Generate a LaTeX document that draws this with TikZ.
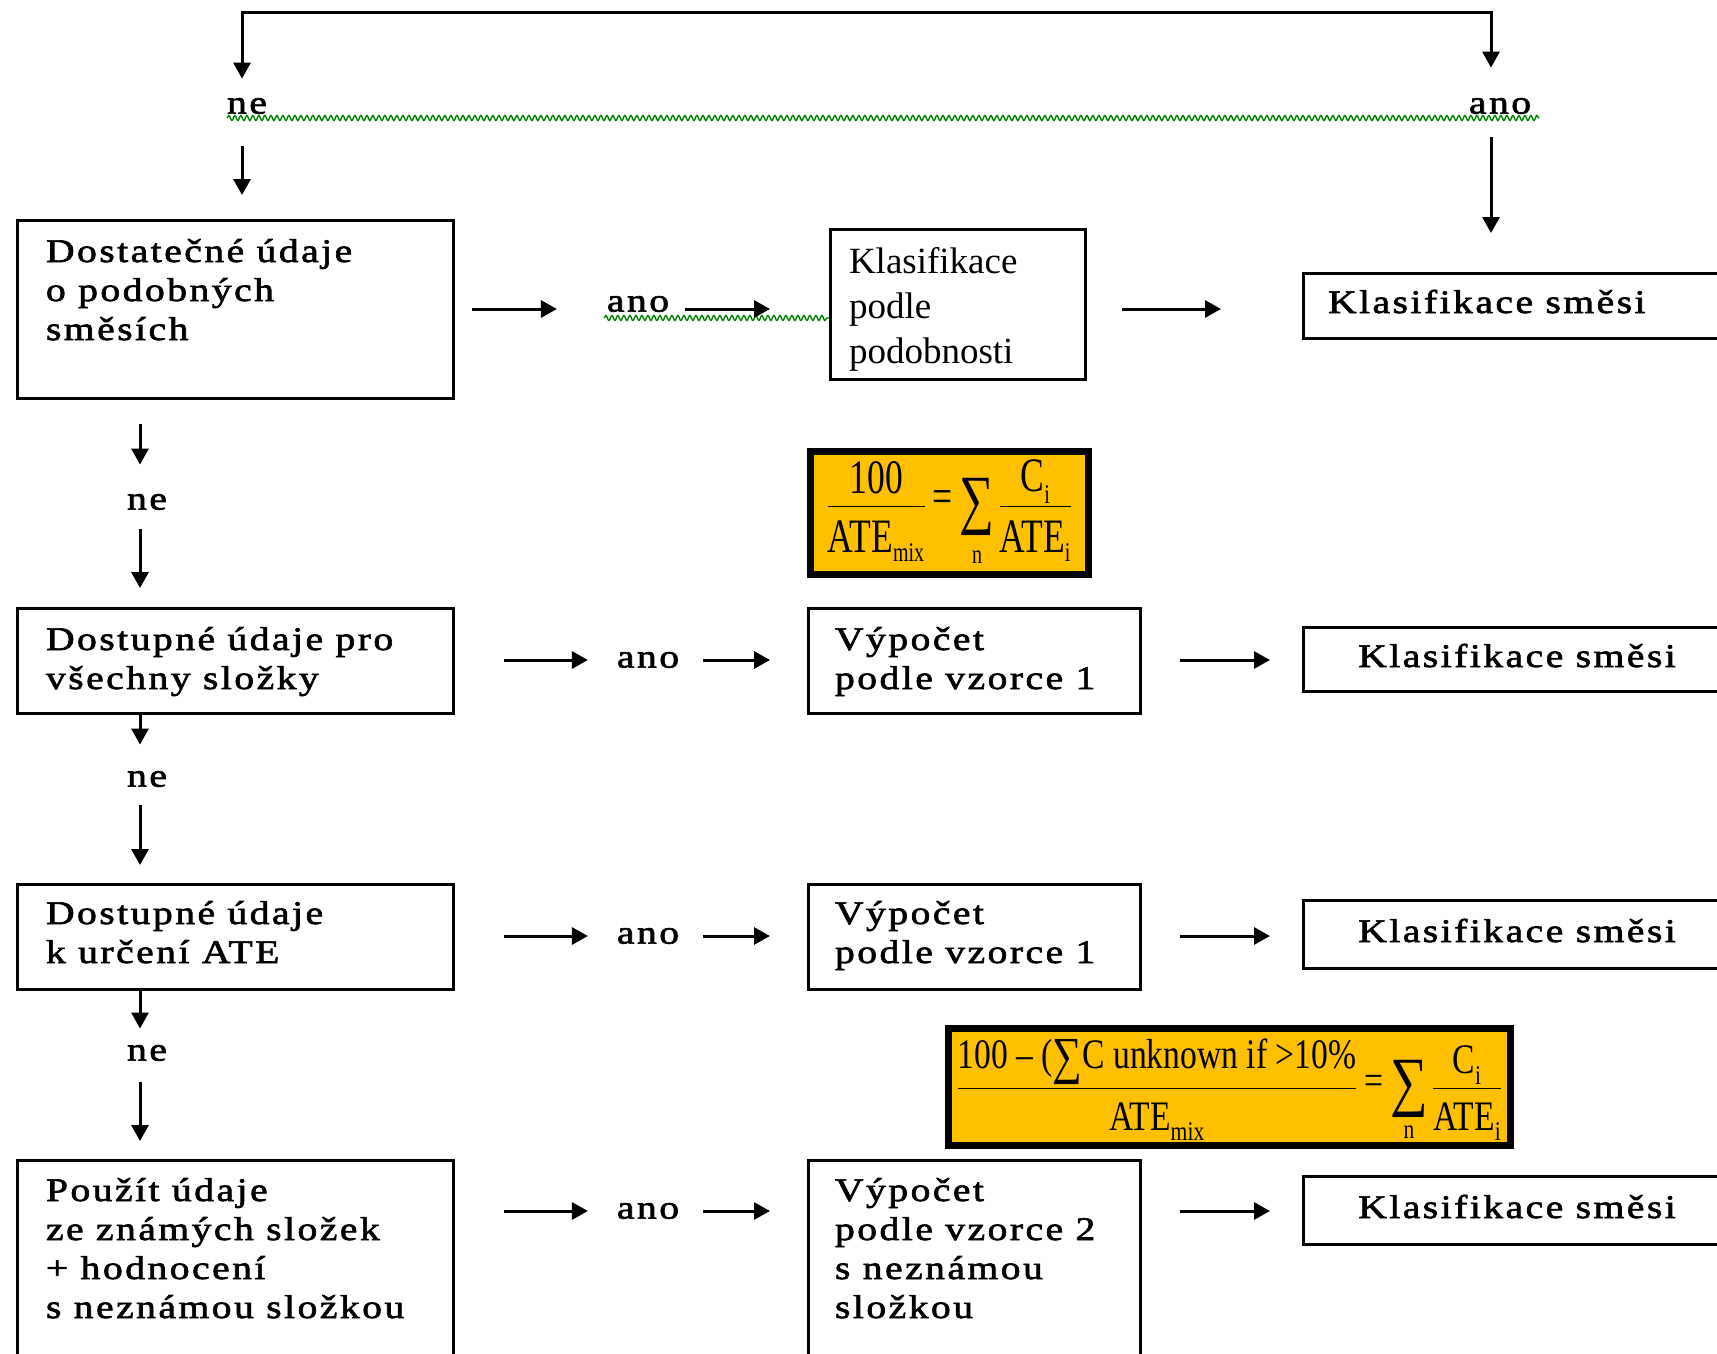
\documentclass[tikz,border=0pt]{standalone}
\usepackage{amsmath}
\usepackage{fontspec}
\setmainfont{Liberation Serif}
\newfontfamily\wf{Liberation Serif}[FakeStretch=1.2,LetterSpace=7.5,FakeBold=2]
\newfontfamily\ff{Liberation Serif}[FakeStretch=0.74]
\newfontfamily\fg{Liberation Serif}[FakeStretch=0.8]
\usetikzlibrary{arrows.meta,calc,decorations.pathmorphing}
\definecolor{gold}{RGB}{255,192,0}
\definecolor{wavy}{RGB}{0,128,0}
\newcommand\bigsum{\mathop{\vcenter{\hbox{\fontsize{66}{66}\selectfont ∑}}}\limits}
\newcommand\eqs{\mathrel{\text{=}}}
\newcommand\sz{\fontsize{27}{27}\selectfont}
\newcommand\nst{\rule[-10pt]{0pt}{10pt}}
\newcommand\dst{\rule{0pt}{42pt}}
\newcommand\dstb{\rule{0pt}{39pt}}
\newcommand\lowsub{\rule{0pt}{24pt}}
\newcommand\lowsubb{\rule{0pt}{17pt}}
\begin{document}
\begin{tikzpicture}[x=1pt,y=-1pt,
  every node/.style={outer sep=0pt},
  boxframe/.style={draw, line width=3pt, inner sep=0pt, anchor=north west},
  wt/.style={font=\wf\fontsize{33}{39}\selectfont, inner sep=0pt, anchor=north west, align=left},
  pt/.style={font=\fontsize{37}{45}\selectfont, inner sep=0pt, anchor=north west, align=left},
  lbl/.style={font=\wf\fontsize{33}{39}\selectfont, inner sep=0pt},
  arr/.style={line width=3pt, -{Triangle[length=16pt,width=17pt]}},
  squig/.style={wavy, line width=1.4pt, decorate, decoration={snake, amplitude=2.5pt, segment length=6pt}},
  formbox/.style={draw, line width=7pt, fill=gold, inner sep=0pt, anchor=north west}]

\useasboundingbox (0,0) rectangle (1717,1354);
\clip (0,0) rectangle (1717,1354);

% frames
\node[boxframe, minimum width=436pt, minimum height=178pt] (b1) at (17,220) {};
\node[boxframe, minimum width=436pt, minimum height=105pt] (b2) at (17,608) {};
\node[boxframe, minimum width=436pt, minimum height=105pt] (b3) at (17,884) {};
\node[boxframe, minimum width=436pt, minimum height=300pt] (b4) at (17,1160) {};
\node[boxframe, minimum width=255pt, minimum height=150pt] (k) at (830,229) {};
\node[boxframe, minimum width=332pt, minimum height=105pt] (v1) at (808,608) {};
\node[boxframe, minimum width=332pt, minimum height=105pt] (v2) at (808,884) {};
\node[boxframe, minimum width=332pt, minimum height=300pt] (v3) at (808,1160) {};
\node[boxframe, minimum width=440pt, minimum height=65pt] (ks0) at (1303,273) {};
\node[boxframe, minimum width=440pt, minimum height=64pt] (ks1) at (1303,627) {};
\node[boxframe, minimum width=440pt, minimum height=68pt] (ks2) at (1303,900) {};
\node[boxframe, minimum width=440pt, minimum height=68pt] (ks3) at (1303,1176) {};

% texts
\node[wt] (b1t) at (46,234.7) {\strut Dostatečné údaje\\o podobných\\směsích};
\node[wt] (b2t) at (46,622.7) {\strut Dostupné údaje pro\\všechny složky};
\node[wt] (b3t) at (46,896.7) {\strut Dostupné údaje\\k určení ATE};
\node[wt] (b4t) at (46,1173.7) {\strut Použít údaje\\ze známých složek\\+ hodnocení\\s neznámou složkou};
\node[pt] (kt) at (849,241.5) {\strut Klasifikace\\podle\\podobnosti};
\node[wt] (v1t) at (835,622.7) {\strut Výpočet\\podle vzorce 1};
\node[wt] (v2t) at (835,896.7) {\strut Výpočet\\podle vzorce 1};
\node[wt] (v3t) at (835,1173.7) {\strut Výpočet\\podle vzorce 2\\s neznámou\\složkou};
\node[lbl, anchor=base west] (ks0t) at (1328,313) {Klasifikace směsi};
\node[lbl, anchor=base] (ks1t) at (1517,667) {Klasifikace směsi};
\node[lbl, anchor=base] (ks2t) at (1517,942) {Klasifikace směsi};
\node[lbl, anchor=base] (ks3t) at (1517,1218) {Klasifikace směsi};

% formulas
\node[formbox, minimum width=278pt, minimum height=123pt, font=\ff\fontsize{48}{52}\selectfont] (f1) at (810.5,451.5)
  {$\displaystyle\frac{\text{100\nst}}{\text{\dst ATE}_{\text{\sz mix}}}\eqs\bigsum_{\text{\sz\lowsub n}}\frac{\text{C\nst}_{\text{\sz i}}}{\text{\dst ATE}_{\text{\sz i}}}$};
\node[formbox, minimum width=562pt, minimum height=117pt, font=\fg\fontsize{42}{46}\selectfont] (f2) at (948.5,1028.5)
  {\raisebox{-3pt}[\height][\depth]{$\displaystyle\frac{\text{100 – (\raisebox{-0.12em}{\fontsize{52}{52}\selectfont ∑}C unknown if >10\%\nst}}{\text{\dstb ATE}_{\text{\sz mix}}}\eqs\bigsum_{\text{\sz\lowsubb n}}\frac{\text{C\nst}_{\text{\sz i}}}{\text{\dstb ATE}_{\text{\sz i}}}$}};

% labels
\node[lbl] (tne) at (247,106) {ne};
\node[lbl] (tano) at (1500,106) {ano};
\node[lbl] (ano1) at (638,304) {ano};
\node[lbl] (ano2) at (648,660) {ano};
\node[lbl] (ano3) at (648,936) {ano};
\node[lbl] (ano4) at (648,1211) {ano};
\node[lbl] (ne1) at (147,502) {ne};
\node[lbl] (ne2) at (147,779) {ne};
\node[lbl] (ne3) at (147,1053) {ne};

% spelling squiggles
\draw[squig] (227,118) -- (1539,118);
\draw[squig] (604,318) -- (829,318);

% top connector
\coordinate (cl) at (242,13);
\coordinate (cr) at (1491,13);
\coordinate (cx) at (140,0);
\draw[line width=3pt, {Triangle[length=16pt,width=17pt]}-{Triangle[length=16pt,width=17pt]}, shorten <=30.5pt, shorten >=19.5pt]
  (cr |- tano.north) -- (cr) -- (cl) -- (cl |- tne.north);
\draw[arr, shorten <=32.5pt, shorten >=25pt] (cl |- tne.south) -- (cl |- b1.north);
\draw[arr, shorten <=23.5pt, shorten >=40pt] (cr |- tano.south) -- (cr |- ks0.north);

% left column
\draw[arr, shorten <=26pt, shorten >=29.5pt] (cx |- b1.south) -- (cx |- ne1.north);
\draw[arr, shorten <=19.5pt, shorten >=20pt] (cx |- ne1.south) -- (cx |- b2.north);
\draw[arr, shorten >=26.5pt] (cx |- b2.south) -- (cx |- ne2.north);
\draw[arr, shorten <=18.5pt, shorten >=19pt] (cx |- ne2.south) -- (cx |- b3.north);
\draw[arr, shorten >=16.5pt] (cx |- b3.south) -- (cx |- ne3.north);
\draw[arr, shorten <=21.5pt, shorten >=19pt] (cx |- ne3.south) -- (cx |- b4.north);

% row 1
\draw[arr, shorten <=19pt, shorten >=50pt] (b1.east) -- (b1.east -| ano1.west);
\draw[arr, shorten <=16pt, shorten >=60pt] (ano1.east |- b1.east) -- (k.west |- b1.east);
\draw[arr, shorten <=37pt, shorten >=82pt] (k.east |- b1.east) -- (ks0.west |- b1.east);

% rows 2-4
\draw[arr, shorten <=51pt, shorten >=29pt] (b2.east |- ano2) -- (ano2.west);
\draw[arr, shorten <=24pt, shorten >=38pt] (ano2.east) -- (v1.west |- ano2);
\draw[arr, shorten <=40pt, shorten >=33pt] (v1.east |- ano2) -- (ks1.west |- ano2);
\draw[arr, shorten <=51pt, shorten >=29pt] (b3.east |- ano3) -- (ano3.west);
\draw[arr, shorten <=24pt, shorten >=38pt] (ano3.east) -- (v2.west |- ano3);
\draw[arr, shorten <=40pt, shorten >=33pt] (v2.east |- ano3) -- (ks2.west |- ano3);
\draw[arr, shorten <=51pt, shorten >=29pt] (b4.east |- ano4) -- (ano4.west);
\draw[arr, shorten <=24pt, shorten >=38pt] (ano4.east) -- (v3.west |- ano4);
\draw[arr, shorten <=40pt, shorten >=33pt] (v3.east |- ano4) -- (ks3.west |- ano4);
\end{tikzpicture}
\end{document}
